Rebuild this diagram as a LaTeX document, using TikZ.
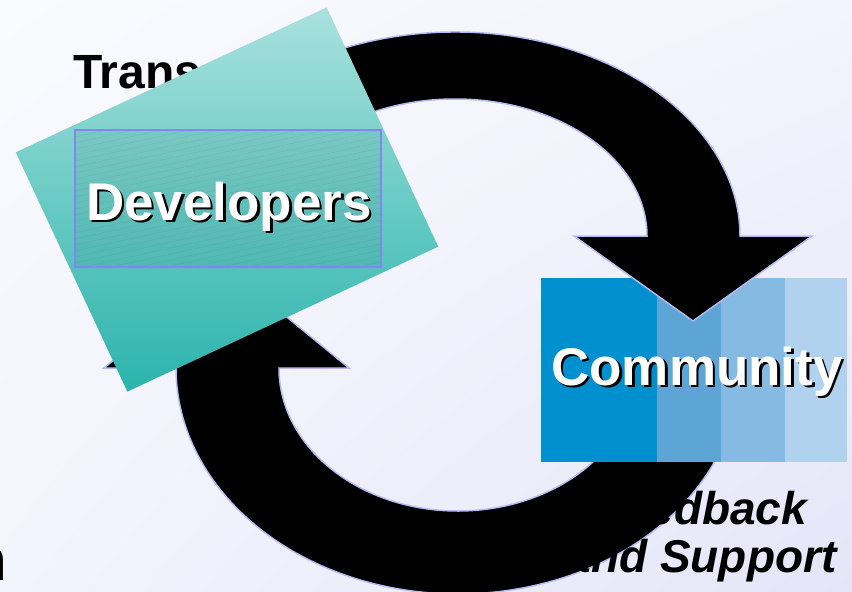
\documentclass[tikz,border=0pt]{standalone}
\usepackage{fontspec}
\setmainfont{Liberation Sans}
\usepackage{tikz}
\usetikzlibrary{calc}
\usetikzlibrary{shadings}
\usetikzlibrary{positioning}
\definecolor{bgtop}{HTML}{FAFBFE}
\definecolor{bgmid}{HTML}{F3F4FD}
\definecolor{bgbot}{HTML}{E6E5F8}
\definecolor{rim}{HTML}{B8BAF4}
\definecolor{tealhi}{HTML}{A9E1DD}
\definecolor{tealmd}{HTML}{6CCBC5}
\definecolor{teallo}{HTML}{2BB4AD}
\definecolor{framec}{HTML}{8484F4}
\definecolor{blueA}{HTML}{0090CF}
\definecolor{blueB}{HTML}{5DA5D5}
\definecolor{blueC}{HTML}{85BBE2}
\definecolor{blueD}{HTML}{B0D2EE}
\newcommand{\dropshadow}[1]{\rlap{\color{black}\kern2.5pt\raisebox{-2.5pt}{#1}}#1}
\tikzset{loop/.style={fill=black,draw=rim,line width=1.5pt,line join=miter}}
\tikzset{bigword/.style={font=\fontsize{53}{60}\selectfont\bfseries,text=white,inner sep=0pt,anchor=base}}
\tikzset{sideword/.style={font=\fontsize{48}{48}\selectfont\bfseries,inner sep=0pt}}
\tikzset{feedword/.style={font=\fontsize{46}{46}\selectfont\bfseries\itshape,inner sep=0pt,anchor=base}}
\tikzset{card/.style={rectangle,inner sep=0pt,top color=tealhi,middle color=tealmd,bottom color=teallo}}
\tikzset{cardframe/.style={rectangle,draw=framec,line width=1.2pt,inner sep=0pt}}

\begin{document}
\begin{tikzpicture}[x=1pt,y=-1pt]

\useasboundingbox (0,0) rectangle (852,592);
\shade[upper left=bgtop,upper right=bgmid,lower left=bgmid,lower right=bgbot] (0,0) rectangle (852,592);

% texts behind
\node[sideword,anchor=base west] (trans) at (73,88) {Trans};
\node[sideword,anchor=base west,font=\fontsize{60}{60}\selectfont\bfseries] (tail) at (-30,580) {n};

% lower loop
\coordinate (cl) at (458,368);
\draw[loop] (176,368) -- (104,368) -- (227,268) -- (349,368) -- (279,368)
	arc[start angle=180,end angle=-10,x radius=179,y radius=143]
	-- ($(cl)+(-10:282 and 226)$)
	arc[start angle=-10,end angle=180,x radius=282,y radius=226] -- cycle;

% community
\foreach \x/\w/\c in {541/116/blueA,657/64/blueB,721/64/blueC,785/62/blueD}
{
	\fill[\c] (\x,278) rectangle ++(\w,184);
}
\node[bigword] (comm) at (697,385) {\dropshadow{Community}};

% upper loop
\coordinate (cu) at (455,236);
\draw[loop] ($(cu)+(210:285 and 204)$)
	arc[start angle=210,end angle=360,x radius=285,y radius=204]
	-- (812,236) -- (693,321) -- (574,236) -- (647,236)
	arc[start angle=360,end angle=210,x radius=192,y radius=137] -- cycle;

\node[feedword] (feed) at (701,524) {Feedback};
\node[feedword] (supp) at ($(feed.base)+(0,48)$) {and Support};

% developers
\node[card,rotate=25,minimum width=343pt,minimum height=264pt] (devcard) at (227,199.5) {};
\begin{scope}
	\clip (75,130) rectangle (381,267);
	\fill[black,opacity=0.05] (75,130) rectangle (381,267);
	\foreach \y in {120,126,...,330}
	{
		\draw[black!70,opacity=0.18,line width=0.4pt,dash pattern=on 1pt off 1pt] (70,\y) -- (390,\y-70);
	}
\end{scope}
\node[cardframe,minimum width=306pt,minimum height=137pt] (devframe) at (228,198.5) {};
\node[bigword] (dev) at (229,220) {\dropshadow{Developers}};

\end{tikzpicture}
\end{document}
